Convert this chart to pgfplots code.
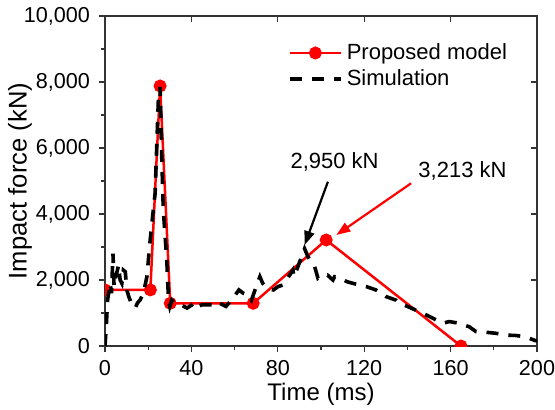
\documentclass[border=0pt]{standalone}
\usepackage{pgfplots}
\pgfplotsset{compat=1.18}
\usepackage{fontspec}
\setmainfont{Liberation Sans}
\usetikzlibrary{arrows.meta}
\begin{document}
\begin{tikzpicture}[font=\fontsize{10.8}{13}\selectfont]
\useasboundingbox (-52.5pt,-31.5pt) rectangle (225pt,173pt);
\begin{axis}[
  scale only axis, width=216pt, height=165pt,
  at={(0,0)}, anchor=south west,
  xmin=0, xmax=200, ymin=0, ymax=10000,
  xtick={0,40,...,200}, ytick={0,2000,...,10000},
  minor x tick num=1, minor y tick num=1,
  xtick pos=left, ytick pos=left, tick align=outside,
  major tick length=3pt, minor tick length=2pt,
  axis line style={line width=0.7pt, black!80},
  every tick/.style={line width=0.6pt, black!80},
  scaled y ticks=false,
  clip marker paths=true,
  /pgf/number format/.cd, 1000 sep={,}, assume math mode=true, /pgfplots/.cd,
  xlabel={Time (ms)}, ylabel={Impact force (kN)},
  xlabel style={at={(axis description cs:0.5,-0.145)}, anchor=center, font=\fontsize{12}{14}\selectfont},
  ylabel style={at={(axis description cs:-0.197,0.5)}, anchor=center, font=\fontsize{12.8}{15}\selectfont},
  xticklabel style={yshift=-0.5pt},
  yticklabel style={xshift=-1pt},
  legend style={draw=none, fill=none, at={(rel axis cs:0.4226,0.93)}, anchor=north west,
    inner sep=0pt, row sep=-0.5pt, font=\fontsize{11}{13}\selectfont, legend cell align=left},
  legend image code/.code={\draw[mark repeat=2,mark phase=2] plot coordinates {(0cm,0cm) (0.45cm,0cm) (0.9cm,0cm)};},
]
\addplot[red, line width=1.25pt, mark=*, mark size=2.6pt, mark options={solid, fill=red}] coordinates {
 (0,1700) (21,1700) (25.5,7880) (30.2,1294) (68.6,1294) (102.4,3213) (164.8,0)
};
\addlegendentry{Proposed model}
\addplot[black, line width=1.8pt, dash pattern=on 6pt off 5pt] coordinates {
 (0,0) (0.6,600) (1.2,1400) (2.4,1900) (3.0,1600) (3.7,2800) (4.2,1800) (5.0,2100) (6.3,2450)
 (7.0,2000) (7.8,1900) (8.5,2300) (9.4,2250) (10.1,1700) (11,1500) (12.5,1240) (14,1150)
 (15,1300) (16.3,1400) (17.8,1600) (19.4,2100) (20.9,3200) (21.7,3718) (23.2,4630) (24,6140)
 (24.7,7450) (25.5,7850) (26.3,5640) (27,4120) (28.6,2600) (29.4,1400) (30,1200) (30.9,1390)
 (32,1300) (35,1250) (38,1150) (40.1,1240) (41,1300) (42,1180) (45,1250) (50,1250) (51.7,1340)
 (53,1300) (56,1200) (58,1350) (60.9,1600) (62,1700) (64,1600) (66.3,1545) (67.8,1390) (70,1800)
 (71.7,2100) (73,1900) (75,1750) (78,1700) (80.1,1800) (82.4,1850) (84,2000) (87,2300) (87.5,2100)
 (89,2350) (91,2700) (92.4,2950) (94,2700) (97.1,2400) (98.6,2050) (100,2100) (103,2150)
 (105.5,2000) (106.3,2100) (109,2050) (112,1950) (114.7,1900) (117.8,1850) (121,1800)
 (125.4,1700) (130,1500) (134.7,1390) (136,1300) (140,1200) (145.5,1040) (150,900) (156.3,690)
 (159.4,740) (163,700) (168.6,585) (171.7,440) (176,420) (181,385) (185.6,330) (190,320)
 (194.8,280) (198.5,180) (200,150)
};
\addlegendentry{Simulation}
\draw[black, line width=1.1pt, -{Triangle[length=7pt,width=5pt]}] (axis cs:103.2,4979) -- (axis cs:92.4,3060);
\draw[red, line width=1.1pt, -{Triangle[length=7pt,width=5pt]}] (axis cs:141.7,4930) -- (axis cs:107.1,3364);
\node[font=\fontsize{11}{13}\selectfont] at (axis cs:106.3,5585) {2,950 kN};
\node[font=\fontsize{11}{13}\selectfont] at (axis cs:165.5,5300) {3,213 kN};
\end{axis}
\begin{axis}[
  scale only axis, width=216pt, height=165pt,
  at={(0,0)}, anchor=south west,
  xmin=0, xmax=200, ymin=0, ymax=10000,
  xtick={0,40,...,200}, ytick={0,2000,...,10000},
  scaled ticks=false,
  xtick pos=right, ytick pos=right, tick align=inside,
  major tick length=3pt,
  xticklabels={}, yticklabels={},
  axis line style={draw=none},
  every tick/.style={line width=0.6pt, black!80},
]
\end{axis}
\end{tikzpicture}
\end{document}
